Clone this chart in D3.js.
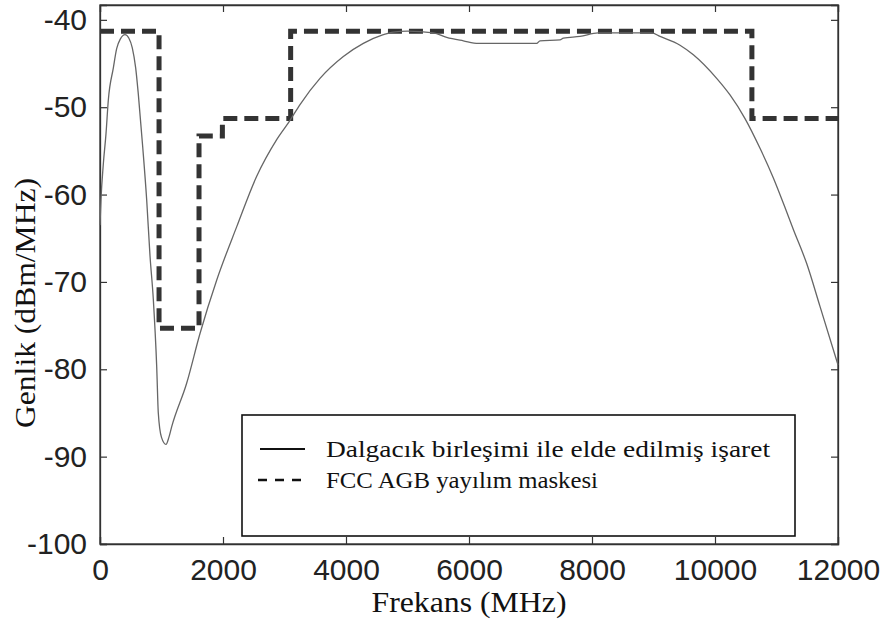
<!DOCTYPE html>
<html>
<head>
<meta charset="utf-8">
<script src="https://cdn.jsdelivr.net/npm/d3@7"></script>
<style>
	html, body { margin:0; padding:0; background:#fff; }
	svg { display:block; }
</style>
</head>
<body>
<script>
// sinyal (frekans MHz, genlik dBm/MHz)
var signalFreq = [0, 16, 54, 98, 135, 217, 271, 330, 407, 470, 525, 580, 623, 694, 759, 813, 867, 922, 948, 1000, 1073, 1120, 1165, 1409, 1626, 1897, 2222, 2548, 2873, 3090, 3252, 3577, 3957, 4282, 4607, 4770, 5000, 5420, 5637, 5908, 6152, 7100, 7154, 7480, 7534, 7805, 8103, 8970, 9106, 9431, 9648, 10027, 10244, 10488, 10732, 10949, 11166, 11274, 11491, 11707, 12000];
var signalVal = [-63.5, -60.6, -56.5, -53.0, -49.2, -45.5, -43.3, -42.2, -41.7, -42.1, -43.2, -45.5, -48.5, -54.5, -60.6, -67.0, -72.0, -79.7, -85.0, -87.8, -88.6, -87.8, -86.6, -81.6, -75.9, -69.8, -63.7, -57.9, -53.7, -51.5, -49.7, -46.7, -44.2, -42.7, -41.7, -41.4, -41.3, -41.5, -42.0, -42.4, -42.7, -42.7, -42.4, -42.3, -42.1, -41.9, -41.5, -41.5, -41.9, -42.9, -44.0, -46.7, -48.6, -51.3, -54.7, -58.1, -62.0, -64.0, -67.9, -72.8, -79.5];
// FCC maske basamaklari
var maskFreq = [0, 960, 1610, 1990, 3100, 10600, 12000];
var maskVal = [-41.3, -75.3, -53.3, -51.3, -41.3, -51.3, -51.3];
var xTicks = [0, 2000, 4000, 6000, 8000, 10000, 12000];
var yTicks = [-100, -90, -80, -70, -60, -50, -40];
var legendLabels = ["Dalgacık birleşimi ile elde edilmiş işaret", "FCC AGB yayılım maskesi"];

var W = 888, H = 623;
var pLeft = 100, pRight = 838, pTop = 5, pBottom = 544;

var svg = d3.select("body").append("svg")
	.attr("width", W)
	.attr("height", H);

var x = d3.scaleLinear().domain([0, 12000]).range([pLeft, pRight]);
var y = d3.scaleLinear().domain([-100, -38.3]).range([pBottom, pTop]);

var axisColor = "#333";
var tickLen = 7;
var serif = "'Liberation Serif', 'Times New Roman', Times, serif";
var plainNum = function(d){ return String(d); };   // tire "-" ile, eksi isareti degil

// eksenler (icten tikler)
var xAxis = svg.append("g")
	.attr("transform", "translate(0," + pBottom + ")")
	.call(d3.axisBottom(x).tickValues(xTicks).tickSize(-tickLen).tickPadding(14).tickFormat(plainNum));
var xAxisTop = svg.append("g")
	.attr("transform", "translate(0," + pTop + ")")
	.call(d3.axisTop(x).tickValues(xTicks).tickSize(-tickLen).tickFormat(""));
var yAxis = svg.append("g")
	.attr("transform", "translate(" + pLeft + ",0)")
	.call(d3.axisLeft(y).tickValues(yTicks).tickSize(-tickLen).tickPadding(13).tickFormat(plainNum));
var yAxisRight = svg.append("g")
	.attr("transform", "translate(" + pRight + ",0)")
	.call(d3.axisRight(y).tickValues(yTicks).tickSize(-tickLen).tickFormat(""));

svg.selectAll(".domain").style("stroke", axisColor).style("stroke-width", 1.3);
svg.selectAll(".tick line").style("stroke", axisColor).style("stroke-width", 1.2);
svg.selectAll(".tick text")
	.style("font-family", "'Liberation Sans', Arial, sans-serif")
	.style("font-size", "30px")
	.style("fill", "#222");
xAxis.selectAll(".tick text").attr("dy", "0.72em");

// kenar kutusu
svg.append("rect")
	.attr("x", pLeft)
	.attr("y", pTop)
	.attr("width", pRight - pLeft)
	.attr("height", pBottom - pTop)
	.style("fill", "none")
	.style("stroke", axisColor)
	.style("stroke-width", 1.3);

svg.append("clipPath").attr("id", "plotclip")
	.append("rect")
	.attr("x", pLeft - 2).attr("y", pTop).attr("width", pRight - pLeft + 6).attr("height", pBottom - pTop);

var signalData = signalFreq.map(function(f, i){ return [f, signalVal[i]]; });
var maskData = maskFreq.map(function(f, i){ return [f, maskVal[i]]; });

var line = d3.line()
	.x(function(d){ return x(d[0]); })
	.y(function(d){ return y(d[1]); })
	.curve(d3.curveMonotoneX);
var stepLine = d3.line()
	.x(function(d){ return x(d[0]); })
	.y(function(d){ return y(d[1]); })
	.curve(d3.curveStepAfter);

var plot = svg.append("g").attr("clip-path", "url(#plotclip)");

plot.append("path")
	.datum(maskData)
	.attr("d", stepLine)
	.style("fill", "none")
	.style("stroke", "#333")
	.style("stroke-width", 5)
	.style("stroke-dasharray", "14,7");

plot.append("path")
	.datum(signalData)
	.attr("d", line)
	.style("fill", "none")
	.style("stroke", "#666")
	.style("stroke-width", 1.3);

// lejant
var legend = svg.append("g");
legend.append("rect")
	.attr("x", 242)
	.attr("y", 415)
	.attr("width", 553)
	.attr("height", 121)
	.style("fill", "#fff")
	.style("stroke", "#111")
	.style("stroke-width", 1.6);
legend.append("line")
	.attr("x1", 260).attr("x2", 305)
	.attr("y1", 449).attr("y2", 449)
	.style("stroke", "#111")
	.style("stroke-width", 2);
legend.append("line")
	.attr("x1", 258).attr("x2", 303)
	.attr("y1", 480).attr("y2", 480)
	.style("stroke", "#111")
	.style("stroke-width", 2.5)
	.style("stroke-dasharray", "9,8");
var legendWidths = [444, 272];
legend.selectAll(".legendText")
	.data(legendLabels)
	.enter()
	.append("text")
	.attr("class", "legendText")
	.attr("x", 326)
	.attr("y", function(d, i){ return 457 + i * 31; })
	.attr("textLength", function(d, i){ return legendWidths[i]; })
	.attr("lengthAdjust", "spacingAndGlyphs")
	.style("font-family", serif)
	.style("font-size", "23px")
	.style("fill", "#111")
	.text(function(d){ return d; });

// eksen basliklari
svg.append("text")
	.attr("x", (pLeft + pRight) / 2)
	.attr("y", 612)
	.attr("text-anchor", "middle")
	.attr("textLength", 195)
	.attr("lengthAdjust", "spacingAndGlyphs")
	.style("font-family", serif)
	.style("font-size", "30px")
	.style("fill", "#111")
	.text("Frekans (MHz)");
svg.append("text")
	.attr("transform", "translate(35,303) rotate(-90)")
	.attr("text-anchor", "middle")
	.attr("textLength", 250)
	.attr("lengthAdjust", "spacingAndGlyphs")
	.style("font-family", serif)
	.style("font-size", "30px")
	.style("fill", "#111")
	.text("Genlik (dBm/MHz)");
</script>
</body>
</html>
